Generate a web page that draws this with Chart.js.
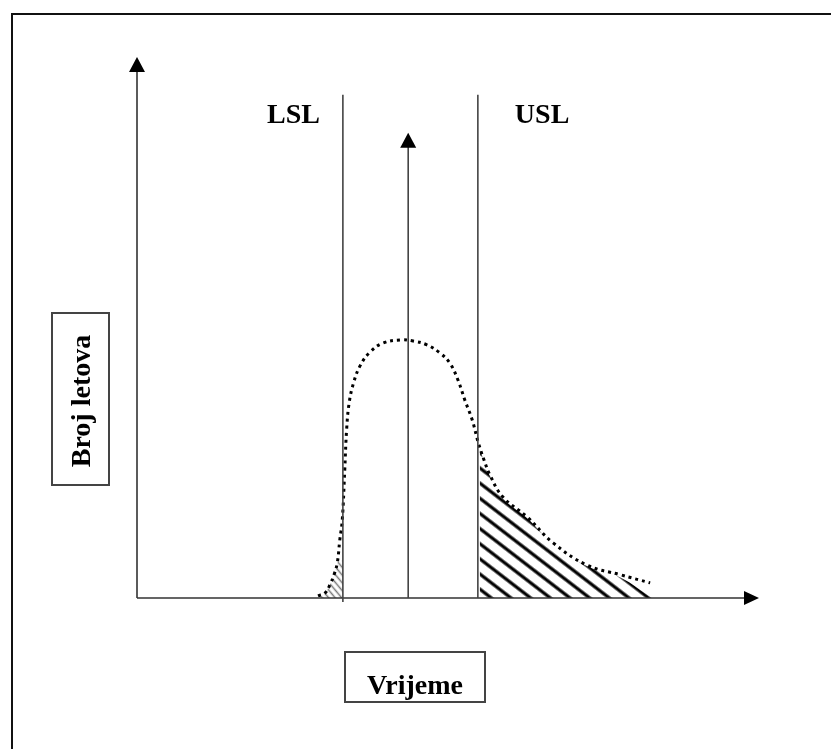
<!DOCTYPE html>
<html>
<head>
<meta charset="utf-8">
<script src="https://cdn.jsdelivr.net/npm/chart.js@4"></script>
<style>
  body { margin: 0; background: #fff; }
  #wrap { width: 831px; height: 749px; }
</style>
</head>
<body>
<div id="wrap"><canvas id="myChart" width="831" height="749"></canvas></div>
<script>
// distribution curve (time on x, number of flights on y, both 0..100)
const curveX = [29.1, 30.2, 31.0, 31.7, 32.2, 32.6, 33.0, 33.4, 33.7, 34.1, 34.8, 35.9, 37.5, 39.5, 42.3, 44.4, 46.6, 48.7, 50.3, 51.6, 52.7, 53.9, 54.8, 55.7, 56.8, 58.8, 62.7, 66.9, 72.3, 77.7, 82.5];
const curveY = [0.4, 0.9, 2.4, 4.4, 6.5, 10.7, 14.4, 23.7, 31.1, 36.0, 39.7, 43.0, 45.5, 47.1, 47.7, 47.5, 46.8, 45.3, 43.4, 40.3, 36.6, 32.9, 29.0, 25.8, 22.6, 18.7, 15.0, 10.2, 6.1, 4.3, 2.8];

// hatched part above USL
const tailX = [55.1, 55.7, 56.8, 58.8, 62.7, 66.9, 72.3, 77.7, 82.8];
const tailY = [27.6, 25.6, 22.4, 18.5, 14.8, 10.0, 5.9, 3.8, 0];

// small hatched part below LSL
const toeX = [29.1, 30.2, 31.0, 31.7, 32.2, 33.1];
const toeY = [0, 0.9, 2.4, 4.4, 6.5, 7.0];

// limits and target
const lslX = 33.1;
const uslX = 54.8;
const targetX = 43.6;
const limitTop = 93;
const targetTop = 86;

const labels = { lsl: 'LSL', usl: 'USL', x: 'Vrijeme', y: 'Broj letova' };

const toPoints = (xs, ys) => xs.map((x, i) => ({ x: x, y: ys[i] }));

// diagonal stripe pattern for the hatched areas
const stripes = (gap, width, color, angle) => {
    const tile = document.createElement('canvas');
    tile.width = 64;
    tile.height = gap;
    const t = tile.getContext('2d');
    t.fillStyle = color;
    t.fillRect(0, (gap - width) / 2, 64, width);
    const pattern = t.createPattern(tile, 'repeat');
    pattern.setTransform(new DOMMatrix().rotate(angle));
    return pattern;
};

const arrowHead = (ctx, x, y, dir) => {
    ctx.beginPath();
    if (dir === 'up') {
        ctx.moveTo(x, y);
        ctx.lineTo(x - 8, y + 15);
        ctx.lineTo(x + 8, y + 15);
    } else {
        ctx.moveTo(x, y);
        ctx.lineTo(x - 15, y - 7);
        ctx.lineTo(x - 15, y + 7);
    }
    ctx.closePath();
    ctx.fill();
};

const font = 'bold 28px "Liberation Serif", "Times New Roman", serif';

const guides = {
    id: 'guides',
    afterDatasetsDraw(chart) {
        const ctx = chart.ctx;
        const xs = chart.scales.x;
        const ys = chart.scales.y;
        const x0 = xs.getPixelForValue(0);
        const y0 = ys.getPixelForValue(0);
        const xEnd = xs.getPixelForValue(100);
        const yEnd = ys.getPixelForValue(100);
        ctx.save();

        // outer frame (left and top edges)
        ctx.strokeStyle = '#111';
        ctx.lineWidth = 2;
        ctx.beginPath();
        ctx.moveTo(12, 749);
        ctx.lineTo(12, 14);
        ctx.lineTo(831, 14);
        ctx.stroke();

        // axes with arrows
        ctx.strokeStyle = '#333';
        ctx.fillStyle = '#000';
        ctx.lineWidth = 1.6;
        ctx.beginPath();
        ctx.moveTo(x0, y0);
        ctx.lineTo(x0, yEnd + 10);
        ctx.moveTo(x0, y0);
        ctx.lineTo(xEnd - 10, y0);
        ctx.stroke();
        arrowHead(ctx, x0, yEnd, 'up');
        arrowHead(ctx, xEnd, y0, 'right');

        // LSL, USL and target line
        const lsl = xs.getPixelForValue(lslX);
        const usl = xs.getPixelForValue(uslX);
        const tgt = xs.getPixelForValue(targetX);
        const top = ys.getPixelForValue(limitTop);
        const tTop = ys.getPixelForValue(targetTop);
        ctx.strokeStyle = '#444';
        ctx.beginPath();
        ctx.moveTo(lsl, y0 + 4);
        ctx.lineTo(lsl, top);
        ctx.moveTo(usl, y0);
        ctx.lineTo(usl, top);
        ctx.moveTo(tgt, y0);
        ctx.lineTo(tgt, tTop + 10);
        ctx.stroke();
        arrowHead(ctx, tgt, tTop, 'up');

        // texts
        ctx.font = font;
        ctx.fillStyle = '#000';
        ctx.textBaseline = 'alphabetic';
        ctx.textAlign = 'right';
        ctx.fillText(labels.lsl, lsl - 23, 123);
        ctx.textAlign = 'left';
        ctx.fillText(labels.usl, usl + 37, 123);

        // axis titles in boxes
        ctx.strokeStyle = '#444';
        ctx.lineWidth = 2;
        ctx.strokeRect(345, 652, 140, 50);
        ctx.strokeRect(52, 313, 57, 172);
        ctx.textAlign = 'center';
        ctx.fillText(labels.x, 415, 694);
        ctx.translate(90, 401);
        ctx.rotate(-Math.PI / 2);
        ctx.fillText(labels.y, 0, 0);
        ctx.restore();
    }
};

const chart = new Chart(document.querySelector('#myChart'), {
    type: 'line',
    data: {
        datasets: [
            {
                data: toPoints(curveX, curveY),
                borderColor: '#000',
                borderWidth: 3,
                borderDash: [3, 4],
                pointRadius: 0,
                fill: false,
                tension: 0.4,
                order: 0
            },
            {
                data: toPoints(tailX, tailY),
                borderWidth: 0,
                pointRadius: 0,
                fill: 'origin',
                backgroundColor: stripes(12, 3.2, '#000', 37.6),
                tension: 0.4,
                order: 1
            },
            {
                data: toPoints(toeX, toeY),
                borderWidth: 0,
                pointRadius: 0,
                fill: 'origin',
                backgroundColor: stripes(5, 1.5, '#777', 50),
                tension: 0.4,
                order: 1
            }
        ]
    },
    options: {
        responsive: false,
        animation: false,
        devicePixelRatio: 1,
        layout: { padding: { left: 137, top: 57, right: 72, bottom: 151 } },
        scales: {
            x: { type: 'linear', min: 0, max: 100, display: false },
            y: { min: 0, max: 100, display: false }
        },
        plugins: { legend: { display: false }, tooltip: { enabled: false } }
    },
    plugins: [guides]
});
</script>
</body>
</html>
